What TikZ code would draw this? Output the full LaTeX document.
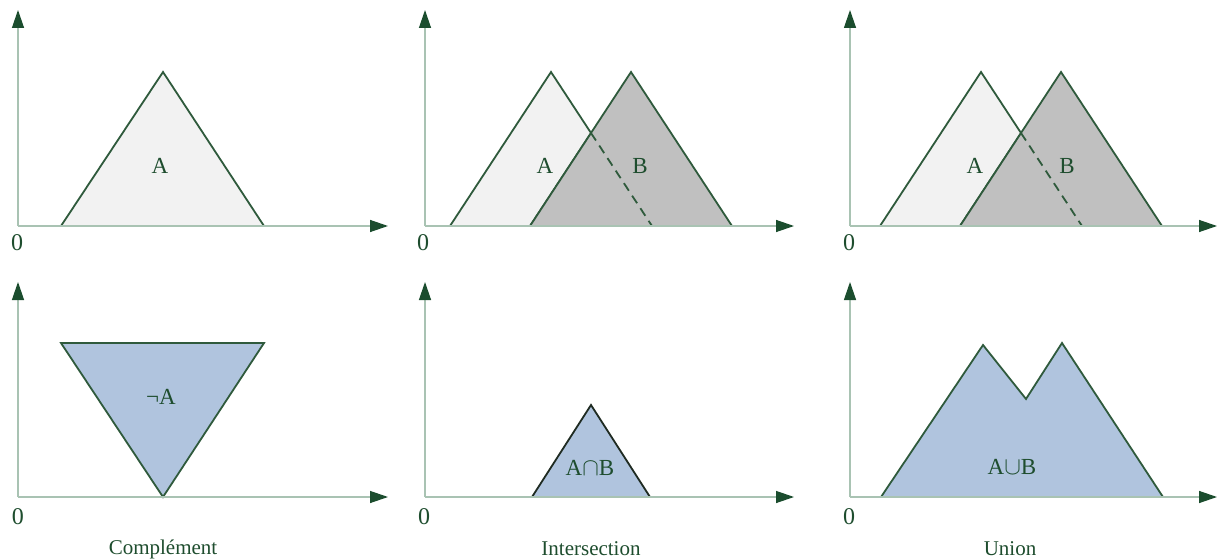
\documentclass[tikz,border=0pt]{standalone}
\usepackage{fontspec}
\setmainfont{Liberation Serif}
\usetikzlibrary{arrows.meta}
\definecolor{axisline}{HTML}{A9C3B3}
\definecolor{axistip}{HTML}{1B4D2E}
\definecolor{edgecol}{HTML}{2F5A3C}
\definecolor{edgedark}{HTML}{1F2B22}
\definecolor{txt}{HTML}{1E4D2E}
\definecolor{lightfill}{HTML}{F2F2F2}
\definecolor{grayfill}{HTML}{C0C0C0}
\definecolor{bluefill}{HTML}{B0C4DE}
\begin{document}
\begin{tikzpicture}[x=1pt,y=-1pt,
  axis/.style={draw=axisline,line width=1.3pt,-{Triangle[length=18pt,width=12pt,color=axistip]}},
  setshape/.style={draw=edgecol,line width=1.8pt,line join=miter},
  lbl/.style={text=txt,font=\fontsize{23}{28}\selectfont,inner sep=0pt},
  zero/.style={text=txt,font=\fontsize{24}{28}\selectfont,inner sep=0pt},
  caption/.style={text=txt,font=\fontsize{21}{26}\selectfont,inner sep=0pt}]
\useasboundingbox (0,0) rectangle (1218,559);
\fill[white] (0,0) rectangle (1218,559);

% ---------- axes ----------
\coordinate (o1) at (18,226);  \coordinate (y1) at (18,10);   \coordinate (x1) at (388,226);
\coordinate (o2) at (425,226); \coordinate (y2) at (425,10);  \coordinate (x2) at (794,226);
\coordinate (o3) at (850,226); \coordinate (y3) at (850,10);  \coordinate (x3) at (1217,226);
\coordinate (o4) at (18,497);  \coordinate (y4) at (18,282);  \coordinate (x4) at (388,497);
\coordinate (o5) at (425,497); \coordinate (y5) at (425,282); \coordinate (x5) at (794,497);
\coordinate (o6) at (850,497); \coordinate (y6) at (850,282); \coordinate (x6) at (1217,497);

% ---------- panel 1: A ----------
\coordinate (a1l) at (61,226); \coordinate (a1t) at (163,72); \coordinate (a1r) at (264,226);
\filldraw[setshape,fill=lightfill] (a1l) -- (a1t) -- (a1r) -- cycle;

% ---------- panel 2: A and B ----------
\coordinate (a2l) at (450,226); \coordinate (a2t) at (551,72); \coordinate (a2r) at (652,226);
\coordinate (b2l) at (530,226); \coordinate (b2t) at (631,72); \coordinate (b2r) at (732,226);
\coordinate (i2) at (591,133);
\filldraw[setshape,fill=lightfill] (a2l) -- (a2t) -- (i2) -- (b2l) -- cycle;
\filldraw[setshape,fill=grayfill] (b2l) -- (b2t) -- (b2r) -- cycle;
\draw[edgecol,line width=1.8pt,dash pattern=on 9pt off 6pt] (i2) -- (a2r);

% ---------- panel 3: A and B ----------
\coordinate (a3l) at (880,226); \coordinate (a3t) at (981,72); \coordinate (a3r) at (1082,226);
\coordinate (b3l) at (960,226); \coordinate (b3t) at (1061,72); \coordinate (b3r) at (1162,226);
\coordinate (i3) at (1021,133);
\filldraw[setshape,fill=lightfill] (a3l) -- (a3t) -- (i3) -- (b3l) -- cycle;
\filldraw[setshape,fill=grayfill] (b3l) -- (b3t) -- (b3r) -- cycle;
\draw[edgecol,line width=1.8pt,dash pattern=on 9pt off 6pt] (i3) -- (a3r);

% ---------- panel 4: not A ----------
\coordinate (n4l) at (61,343); \coordinate (n4r) at (264,343); \coordinate (n4b) at (163,497);
\filldraw[setshape,fill=bluefill] (n4l) -- (n4r) -- (n4b) -- cycle;

% ---------- panel 5: intersection ----------
\coordinate (c5l) at (532,497); \coordinate (c5t) at (591,405); \coordinate (c5r) at (650,497);
\filldraw[setshape,draw=edgedark,fill=bluefill] (c5l) -- (c5t) -- (c5r) -- cycle;

% ---------- panel 6: union ----------
\coordinate (u6a) at (881,497); \coordinate (u6b) at (983,345); \coordinate (u6c) at (1026,399);
\coordinate (u6d) at (1062,343); \coordinate (u6e) at (1163,497);
\filldraw[setshape,fill=bluefill] (u6a) -- (u6b) -- (u6c) -- (u6d) -- (u6e) -- cycle;

% axes drawn on top
\foreach \i in {1,...,6}{
  \draw[axis] (o\i) -- (y\i);
  \draw[axis] (o\i) -- (x\i);
}

% ---------- labels ----------
\node[lbl] (la1) at (160,166) {A};
\node[lbl] (la2) at (545,166) {A};
\node[lbl] (lb2) at (640,166) {B};
\node[lbl] (la3) at (975,166) {A};
\node[lbl] (lb3) at (1067,166) {B};
\node[lbl] (ln4) at (161,397) {¬A};
\node[lbl] (li5) at (590,468) {A$\cap$B};
\node[lbl] (lu6) at (1012,467) {A$\cup$B};

\node[zero] (z1) at (17,243) {0};
\node[zero] (z2) at (423,243) {0};
\node[zero] (z3) at (849,243) {0};
\node[zero] (z4) at (18,517) {0};
\node[zero] (z5) at (424,517) {0};
\node[zero] (z6) at (849,517) {0};

\node[caption] (c1) at (163,549) {Complément};
\node[caption] (c2) at (591,549) {Intersection};
\node[caption] (c3) at (1010,549) {Union};
\end{tikzpicture}
\end{document}
